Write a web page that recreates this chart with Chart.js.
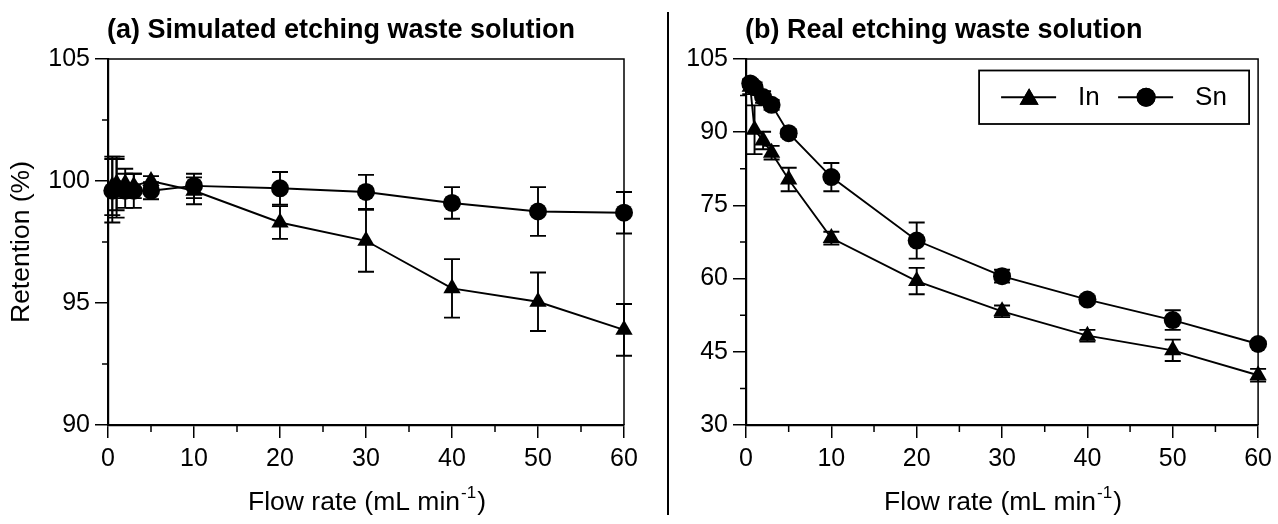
<!DOCTYPE html>
<html>
<head>
<meta charset="utf-8">
<script src="https://cdn.jsdelivr.net/npm/chart.js@4.4.0/dist/chart.umd.min.js"></script>
<style>
  html, body { margin: 0; padding: 0; background: #fff; }
  #wrap { position: relative; width: 1278px; height: 524px; overflow: hidden; }
  .panel { position: absolute; top: 0; height: 524px; }
  #panelA { left: 0; width: 668px; }
  #panelB { left: 670px; width: 608px; }
  #divider { position: absolute; left: 667px; top: 12px; width: 2px; height: 503px; background: #000; }
</style>
</head>
<body>
<div id="wrap">
  <div class="panel" id="panelA"><canvas id="chartA"></canvas></div>
  <div id="divider"></div>
  <div class="panel" id="panelB"><canvas id="chartB"></canvas></div>
</div>
<script>
// Flow rates (mL/min) shared by both panels
const flowRates = [0.5, 1, 2, 3, 5, 10, 20, 30, 40, 50, 60];

// (a) simulated etching waste solution
const simIn     = [99.8, 99.9, 99.9, 99.8, 100.0, 99.6, 98.3, 97.55, 95.6, 95.05, 93.9];
const simInErr  = [1.2, 1.1, 0.6, 0.5, 0.2, 0.55, 0.67, 1.27, 1.2, 1.2, 1.06];
const simSn     = [99.6, 99.7, 99.6, 99.6, 99.6, 99.8, 99.7, 99.55, 99.1, 98.75, 98.7];
const simSnErr  = [1.3, 1.2, 0.7, 0.7, 0.35, 0.5, 0.67, 0.7, 0.65, 1.0, 0.85];

// (b) real etching waste solution
const realIn    = [99.3, 90.5, 88.3, 85.8, 80.3, 68.3, 59.5, 53.3, 48.3, 45.3, 40.2];
const realInErr = [1.5, 5.0, 1.8, 1.4, 2.4, 1.3, 2.7, 1.2, 1.2, 2.2, 1.3];
const realSn    = [100.0, 99.2, 97.2, 95.6, 89.8, 80.8, 67.8, 60.5, 55.7, 51.5, 46.6];
const realSnErr = [0.8, 1.0, 1.2, 1.0, 0.8, 2.9, 3.7, 1.3, 0.8, 2.0, 0.6];

// Axis ticks
const xMajor = [0, 10, 20, 30, 40, 50, 60];
const xMinor = [5, 15, 25, 35, 45, 55];
const yMajorA = [90, 95, 100, 105];
const yMinorA = [92.5, 97.5, 102.5];
const yMajorB = [30, 45, 60, 75, 90, 105];
const yMinorB = [37.5, 52.5, 67.5, 82.5, 97.5];

const FONT = "'Liberation Sans', Arial, Helvetica, sans-serif";
Chart.defaults.font.family = FONT;
Chart.defaults.color = '#000';

function toPoints(xs, ys) {
    return xs.map((x, i) => ({ x: x, y: ys[i] }));
}

function makeSeries(label, values, errors, style, radius) {
    return {
        label: label,
        data: toPoints(flowRates, values),
        errors: errors,
        borderColor: '#000',
        backgroundColor: '#000',
        borderWidth: 1.9,
        pointStyle: style,
        pointRadius: radius,
        pointBorderWidth: 0,
        pointBackgroundColor: '#000',
        tension: 0,
        clip: false
    };
}

// Error bars drawn under the markers
const errorBarPlugin = {
    id: 'errorBars',
    beforeDatasetsDraw(chart) {
        const ctx = chart.ctx;
        const xs = chart.scales.x, ys = chart.scales.y;
        ctx.save();
        ctx.strokeStyle = '#000';
        ctx.lineWidth = 1.9;
        chart.data.datasets.forEach(ds => {
            ds.data.forEach((p, i) => {
                const e = ds.errors[i];
                const px = xs.getPixelForValue(p.x);
                const top = ys.getPixelForValue(p.y + e);
                const bot = ys.getPixelForValue(p.y - e);
                ctx.beginPath();
                ctx.moveTo(px, top); ctx.lineTo(px, bot);
                ctx.moveTo(px - 8, top); ctx.lineTo(px + 8, top);
                ctx.moveTo(px - 8, bot); ctx.lineTo(px + 8, bot);
                ctx.stroke();
            });
        });
        ctx.restore();
    }
};

// Frame, minor ticks, titles and legend
const decorPlugin = {
    id: 'decor',
    afterDraw(chart, args, opts) {
        const ctx = chart.ctx;
        const area = chart.chartArea;
        const xs = chart.scales.x, ys = chart.scales.y;
        ctx.save();

        // top and right frame
        ctx.strokeStyle = '#000';
        ctx.lineWidth = 1.5;
        ctx.beginPath();
        ctx.moveTo(area.left, area.top); ctx.lineTo(area.right, area.top);
        ctx.lineTo(area.right, area.bottom);
        ctx.stroke();

        // minor ticks
        ctx.lineWidth = 1.5;
        ctx.beginPath();
        opts.minorX.forEach(v => {
            const px = xs.getPixelForValue(v);
            ctx.moveTo(px, area.bottom); ctx.lineTo(px, area.bottom + 7);
        });
        opts.minorY.forEach(v => {
            const py = ys.getPixelForValue(v);
            ctx.moveTo(area.left - 6, py); ctx.lineTo(area.left, py);
        });
        ctx.stroke();

        // panel title
        ctx.fillStyle = '#000';
        ctx.font = 'bold 27px ' + FONT;
        ctx.textAlign = 'left';
        ctx.textBaseline = 'middle';
        ctx.fillText(opts.title, area.left - 1, 31);

        // x axis title with superscript
        const main = 'Flow rate (mL min', sup = '-1', tail = ')';
        ctx.font = '26.5px ' + FONT;
        const w1 = ctx.measureText(main).width;
        const w3 = ctx.measureText(tail).width;
        ctx.font = '17px ' + FONT;
        const w2 = ctx.measureText(sup).width;
        let x0 = (area.left + area.right) / 2 - (w1 + w2 + w3) / 2;
        const base = 510;
        ctx.textBaseline = 'alphabetic';
        ctx.font = '26.5px ' + FONT;
        ctx.fillText(main, x0, base);
        ctx.font = '17px ' + FONT;
        ctx.fillText(sup, x0 + w1 + 1, base - 12);
        ctx.font = '26.5px ' + FONT;
        ctx.fillText(tail, x0 + w1 + w2 + 2, base);

        // y axis title
        if (opts.yTitle) {
            ctx.save();
            ctx.translate(22, (area.top + area.bottom) / 2);
            ctx.rotate(-Math.PI / 2);
            ctx.textAlign = 'center';
            ctx.textBaseline = 'middle';
            ctx.font = '26.5px ' + FONT;
            ctx.fillText(opts.yTitle, 0, 0);
            ctx.restore();
        }

        // legend box
        if (opts.legend) {
            const bx = area.right - 9, by = area.top + 11.5;
            const left = bx - 270, h = 53.5, my = by + h / 2;
            ctx.lineWidth = 1.8;
            ctx.strokeRect(left, by, 270, h);
            ctx.font = '26px ' + FONT;
            ctx.textAlign = 'left';
            ctx.textBaseline = 'middle';
            chart.data.datasets.forEach((ds, i) => {
                const off = left + i * 117;
                ctx.lineWidth = 1.9;
                ctx.beginPath();
                ctx.moveTo(off + 22, my); ctx.lineTo(off + 77, my);
                ctx.stroke();
                Chart.helpers.drawPoint(ctx, {
                    pointStyle: ds.pointStyle,
                    radius: ds.pointStyle === 'triangle' ? 11 : 9.5,
                    borderWidth: 0
                }, off + 50, ds.pointStyle === 'triangle' ? my + 2 : my);
                ctx.fill();
                ctx.fillText(ds.label, off + 99, my + 1);
            });
        }
        ctx.restore();
    }
};

function makeOptions(yMin, yMax, yWidth, padRight, decor) {
    return {
        responsive: true,
        maintainAspectRatio: false,
        animation: false,
        layout: { padding: { top: 59, right: padRight, left: 0, bottom: 0 } },
        scales: {
            x: {
                type: 'linear',
                min: 0, max: 60,
                afterFit: s => { s.height = 99; },
                afterBuildTicks: s => { s.ticks = xMajor.map(v => ({ value: v })); },
                ticks: { font: { size: 25 }, padding: 6, color: '#000', maxRotation: 0 },
                grid: { drawOnChartArea: false, tickLength: 13, color: '#000', lineWidth: 1.5 },
                border: { display: true, color: '#000', width: 2.2 }
            },
            y: {
                min: yMin, max: yMax,
                afterFit: s => { s.width = yWidth; },
                afterBuildTicks: s => { s.ticks = decor.yMajor.map(v => ({ value: v })); },
                ticks: { font: { size: 25 }, padding: 5, color: '#000' },
                grid: { drawOnChartArea: false, tickLength: 13, color: '#000', lineWidth: 1.5 },
                border: { display: true, color: '#000', width: 2.2 }
            }
        },
        plugins: {
            legend: { display: false },
            title: { display: false },
            tooltip: { enabled: false },
            decor: decor
        }
    };
}

new Chart(document.getElementById('chartA'), {
    type: 'line',
    data: {
        datasets: [
            makeSeries('In', simIn, simInErr, 'triangle', 10),
            makeSeries('Sn', simSn, simSnErr, 'circle', 9)
        ]
    },
    options: makeOptions(90, 105, 108, 44, {
        title: '(a) Simulated etching waste solution',
        yTitle: 'Retention (%)',
        yMajor: yMajorA, minorY: yMinorA, minorX: xMinor, legend: false
    }),
    plugins: [errorBarPlugin, decorPlugin]
});

new Chart(document.getElementById('chartB'), {
    type: 'line',
    data: {
        datasets: [
            makeSeries('In', realIn, realInErr, 'triangle', 10),
            makeSeries('Sn', realSn, realSnErr, 'circle', 9)
        ]
    },
    options: makeOptions(30, 105, 76, 17, {
        title: '(b) Real etching waste solution',
        yTitle: null,
        yMajor: yMajorB, minorY: yMinorB, minorX: xMinor, legend: true
    }),
    plugins: [errorBarPlugin, decorPlugin]
});
</script>
</body>
</html>
